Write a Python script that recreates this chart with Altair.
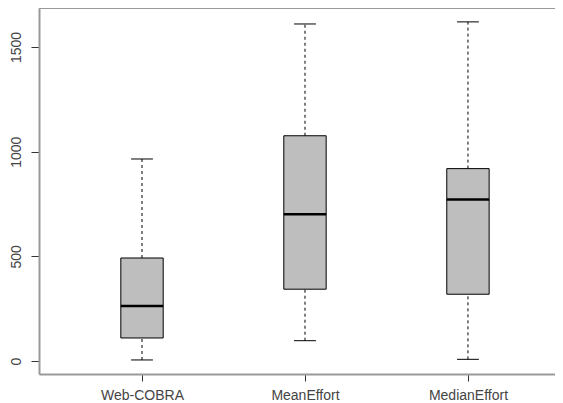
import json
import altair as alt
import pandas as pd

groups = ["Web-COBRA", "MeanEffort", "MedianEffort"]
lower = [5, 97, 8]
q1 = [110, 343, 319]
median = [263, 701, 771]
q3 = [492, 1076, 919]
upper = [965, 1610, 1620]
y_ticks = [0, 500, 1000, 1500]

df = pd.DataFrame({
    "group": groups,
    "pos": list(range(1, len(groups) + 1)),
    "lower": lower, "q1": q1, "median": median, "q3": q3, "upper": upper,
})

W, H = 516, 366
BOXW = 0.13
CAPW = 0.067
xscale = alt.Scale(domain=[0.368, 3.534], nice=False, zero=False)
yscale = alt.Scale(domain=[-62.1, 1686.3], nice=False, zero=False)

label_expr = "%s[datum.value - 1]" % json.dumps(groups)
xaxis = alt.Axis(values=[1, 2, 3], labelExpr=label_expr, title=None, grid=False,
                 tickSize=7, tickColor="#333", labelPadding=7, labelBaseline="top",
                 labelFont="Liberation Sans", labelFontSize=14, labelColor="#444",
                 domainColor="#999", domainWidth=2, labelFlush=False)
yaxis = alt.Axis(values=y_ticks, format="d", title=None, grid=False, tickSize=8,
                 tickColor="#333", labelAngle=270, labelAlign="center",
                 labelBaseline="bottom", labelPadding=8, labelFont="Liberation Sans",
                 labelFontSize=14, labelColor="#444", domainColor="#999", domainWidth=2)

base = alt.Chart(df).transform_calculate(
    bx1="datum.pos - %f" % BOXW, bx2="datum.pos + %f" % BOXW,
    cx1="datum.pos - %f" % CAPW, cx2="datum.pos + %f" % CAPW,
)

whisk_lo = base.mark_rule(color="black", strokeWidth=1, strokeDash=[3, 3]).encode(
    x=alt.X("pos:Q", scale=xscale, axis=xaxis),
    y=alt.Y("lower:Q", scale=yscale, axis=yaxis),
    y2="q1:Q",
)
whisk_hi = base.mark_rule(color="black", strokeWidth=1, strokeDash=[3, 3]).encode(
    x="pos:Q", y="q3:Q", y2="upper:Q")
cap_lo = base.mark_rule(color="black", strokeWidth=1).encode(
    x="cx1:Q", x2="cx2:Q", y="lower:Q")
cap_hi = base.mark_rule(color="black", strokeWidth=1).encode(
    x="cx1:Q", x2="cx2:Q", y="upper:Q")
box = base.mark_rect(fill="#bebebe", stroke="black", strokeWidth=1).encode(
    x="bx1:Q", x2="bx2:Q", y="q1:Q", y2="q3:Q")
med = base.mark_rule(color="black", strokeWidth=2.5).encode(
    x="bx1:Q", x2="bx2:Q", y="median:Q")
top = alt.Chart(pd.DataFrame({"a": [0]})).mark_rule(color="#999", strokeWidth=2).encode(
    x=alt.value(0), x2=alt.value(W), y=alt.value(0))

chart = alt.layer(whisk_lo, whisk_hi, cap_lo, cap_hi, box, med, top).properties(
    width=W, height=H,
    autosize=alt.AutoSizeParams(type="none"),
    padding={"left": 31, "top": 0, "right": 0, "bottom": 27},
).configure_view(stroke=None).configure(background="white")

chart.save("out.html", embed_options={"renderer": "svg", "actions": False})
